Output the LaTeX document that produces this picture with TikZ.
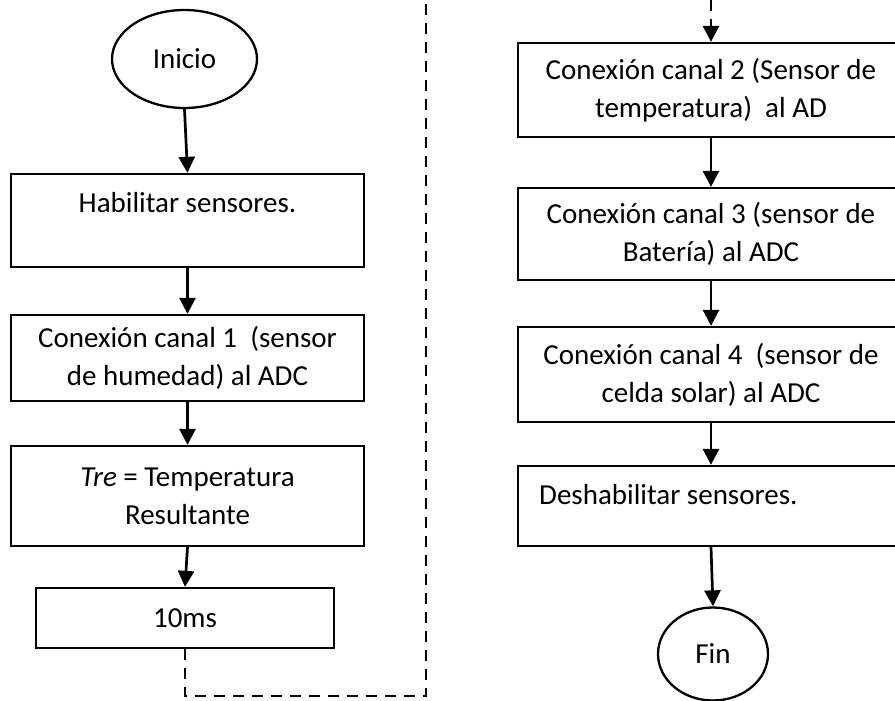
\documentclass[tikz,border=0pt]{standalone}
\usepackage{fontspec}
\setmainfont{Carlito}
\usetikzlibrary{arrows.meta,shapes.geometric}

\begin{document}
\begin{tikzpicture}[x=1pt,y=-1pt,
  every node/.style={font=\fontsize{29}{38}\selectfont},
  procbox/.style={draw, line width=2.3pt, rectangle, inner sep=0pt, align=center},
  terminal/.style={draw, line width=2.3pt, ellipse, inner sep=0pt},
  tip/.style={-{Triangle[length=16pt,width=16pt]}},
  flow/.style={line width=2.7pt, tip},
  jump/.style={line width=2.8pt, dash pattern=on 11pt off 8pt},
]
\useasboundingbox (0,0) rectangle (895,701);
\clip (0,0) rectangle (895,701);

% left column
\node[terminal, minimum width=145pt, minimum height=98pt] (inicio) at (184.5,59) {Inicio};
\node[procbox, minimum width=353pt, minimum height=93pt] (b1) at (187.5,220.5) {};
\node[anchor=base] (t1) at (187.5,212) {Habilitar sensores.};
\node[procbox, minimum width=353pt, minimum height=86pt] (b2) at (187.5,358)
  {Conexión canal 1~~(sensor\\de humedad) al ADC};
\node[procbox, minimum width=353pt, minimum height=100pt] (b3) at (187.5,496)
  {\textit{Tre} = Temperatura\\Resultante};
\node[procbox, minimum width=298pt, minimum height=60pt] (b4) at (185,618) {10ms};

% right column
\node[procbox, minimum width=386pt, minimum height=94pt] (b5) at (711,90)
  {Conexión canal 2 (Sensor de\\temperatura)~~al AD};
\node[procbox, minimum width=386pt, minimum height=92pt] (b6) at (711,234)
  {Conexión canal 3 (sensor de\\Batería) al ADC};
\node[procbox, minimum width=386pt, minimum height=95pt] (b7) at (711,374.5)
  {Conexión canal 4~~(sensor de\\celda solar) al ADC};
\node[procbox, minimum width=386pt, minimum height=80pt] (b8) at (711,506) {};
\node[anchor=base west, inner sep=0pt] (t8) at (539,504) {Deshabilitar sensores.};
\node[terminal, minimum width=110pt, minimum height=93pt] (fin) at (713,654) {Fin};

% connectors
\draw[flow] (inicio.south) -- (b1.north);
\draw[flow] (b1.south) -- (b2.north);
\draw[flow] (b2.south) -- (b3.north);
\draw[flow] (b3.south) -- (b4.north);

% off-page link: leaves the left column at the top, re-enters the right column
\coordinate (dbot) at (426,696);
\coordinate (top1) at (426,0);
\coordinate (top2) at (711,0);
\coordinate (b5in) at ([yshift=14pt]b5.north);
\draw[jump] (b4.south) |- (dbot) -- (top1);
\draw[jump] (top2) -- (b5in);
\draw[flow] (b5in) -- (b5.north);

\draw[flow] (b5.south) -- (b6.north);
\draw[flow] (b6.south) -- (b7.north);
\draw[flow] (b7.south) -- (b8.north);
\draw[flow] (b8.south) -- (fin.north);
\end{tikzpicture}
\end{document}
